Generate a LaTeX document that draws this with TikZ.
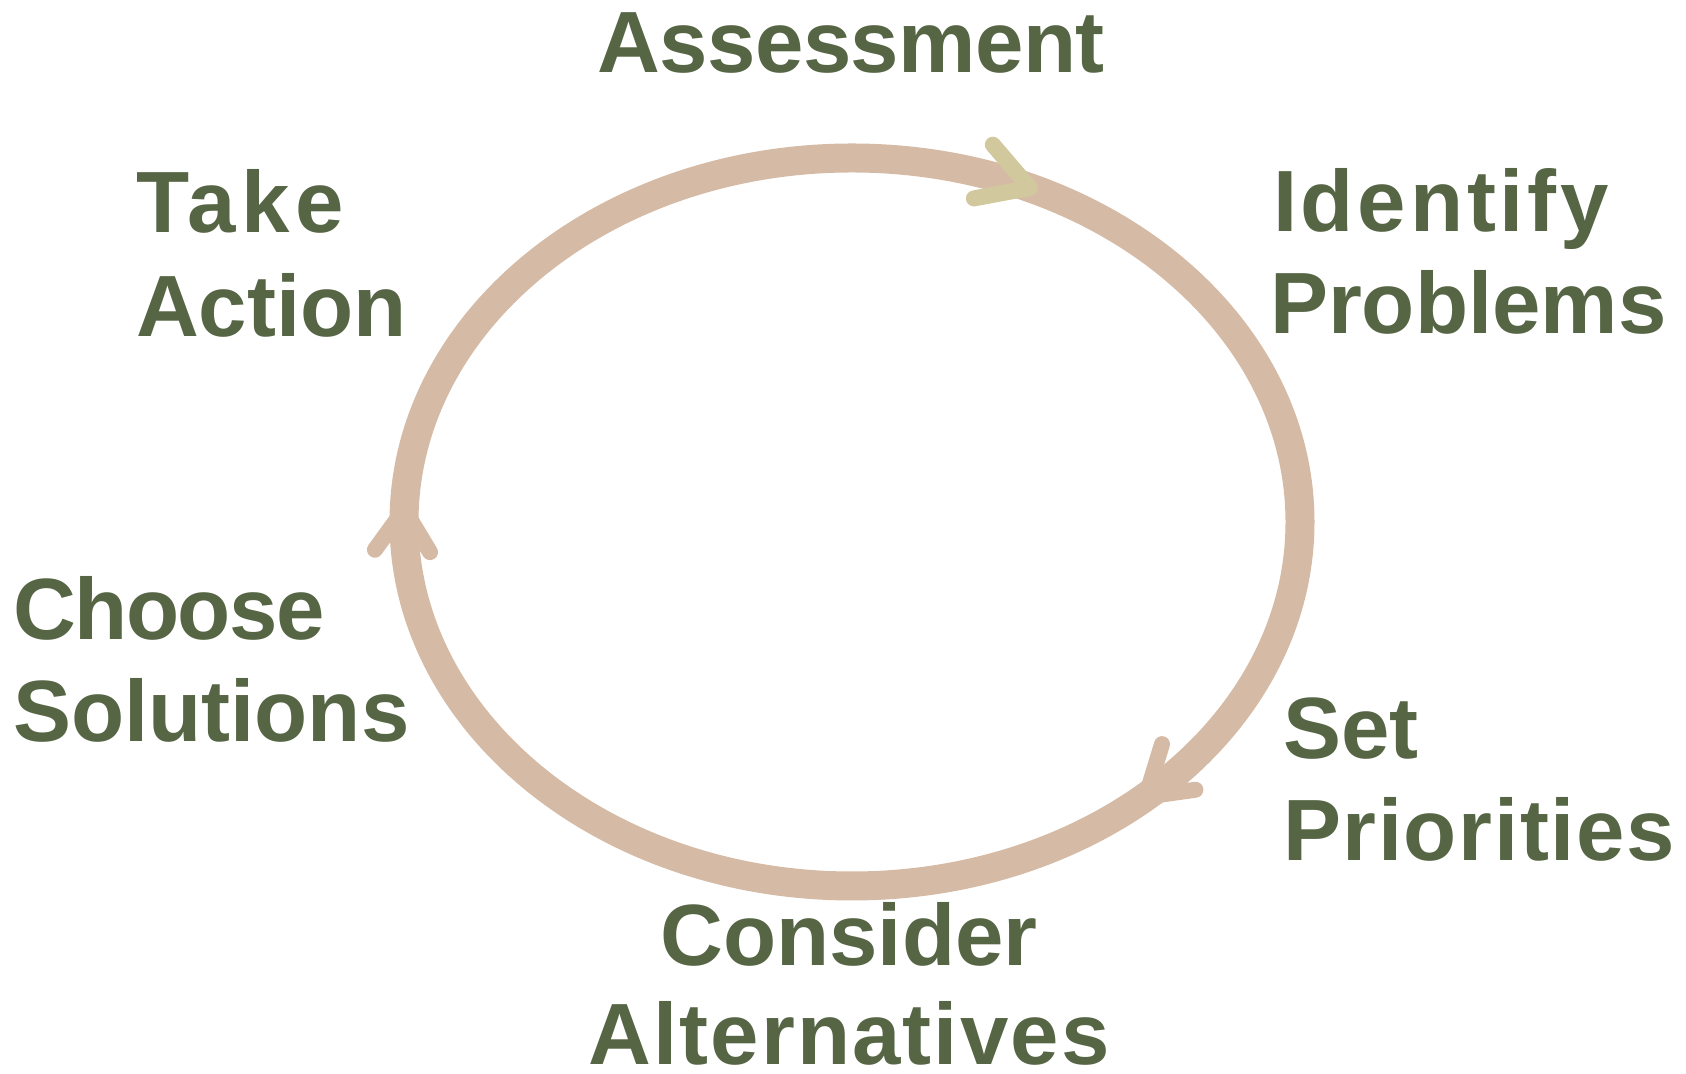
\documentclass[tikz,border=0pt]{standalone}
\usepackage{fontspec}
\setmainfont{Liberation Sans}
\usetikzlibrary{calc}
\definecolor{txt}{HTML}{566645}
\definecolor{ringc}{HTML}{D5BBA5}
\definecolor{headtop}{HTML}{D1C89D}
\newcommand{\lsp}[1]{\addfontfeature{LetterSpace=#1}}
\begin{document}
\begin{tikzpicture}[x=0.5pt,y=0.5pt,
  lbl/.style={inner sep=0pt, outer sep=0pt, text=txt, font=\bfseries\fontsize{43.5}{52}\selectfont},
  ring/.style={draw=ringc, line width=14.5pt},
  head/.style={draw=ringc, line width=8pt, line cap=round, line join=round}]
\useasboundingbox (0,0) rectangle (1686,1074);
\coordinate (c) at (852,552);
\draw[ring] (c) ellipse [x radius=448, y radius=364];
% arrowheads (clockwise flow)
\coordinate (h1) at ($(c)+(66.6:448 and 364)$);
\draw[head, draw=headtop] ($(h1)+(190.6:57)$) -- (h1) -- ($(h1)+(130.6:57)$);
\coordinate (h2) at ($(c)+(-49:448 and 364)$);
\draw[head] ($(h2)+(73:55)$) -- (h2) -- ($(h2)+(8:50)$);
\coordinate (h3) at ($(c)+(178:448 and 364)$);
\draw[head] ($(h3)+(234:50)$) -- (h3) -- ($(h3)+(301:50)$);
% labels
\node[lbl, anchor=base] (assess) at (851,1001) {\lsp{-0.7}Assessment};
\node[lbl, anchor=base west] (take1) at (136,841) {\lsp{6}Take};
\node[lbl, anchor=base west] (take2) at (136,737) {Action};
\node[lbl, anchor=base west] (iden1) at (1273,842) {\lsp{4.4}Identify};
\node[lbl, anchor=base west] (iden2) at (1270,740) {Problems};
\node[lbl, anchor=base west] (set1) at (1283,315) {Set};
\node[lbl, anchor=base west] (set2) at (1283,213) {\lsp{1.9}Priorities};
\node[lbl, anchor=base] (cons1) at (849,108) {Consider};
\node[lbl, anchor=base] (cons2) at (849,9) {\lsp{2.4}Alternatives};
\node[lbl, anchor=base west] (choo1) at (13,434) {\lsp{-1.7}Choose};
\node[lbl, anchor=base west] (choo2) at (13,332) {Solutions};
\end{tikzpicture}
\end{document}
